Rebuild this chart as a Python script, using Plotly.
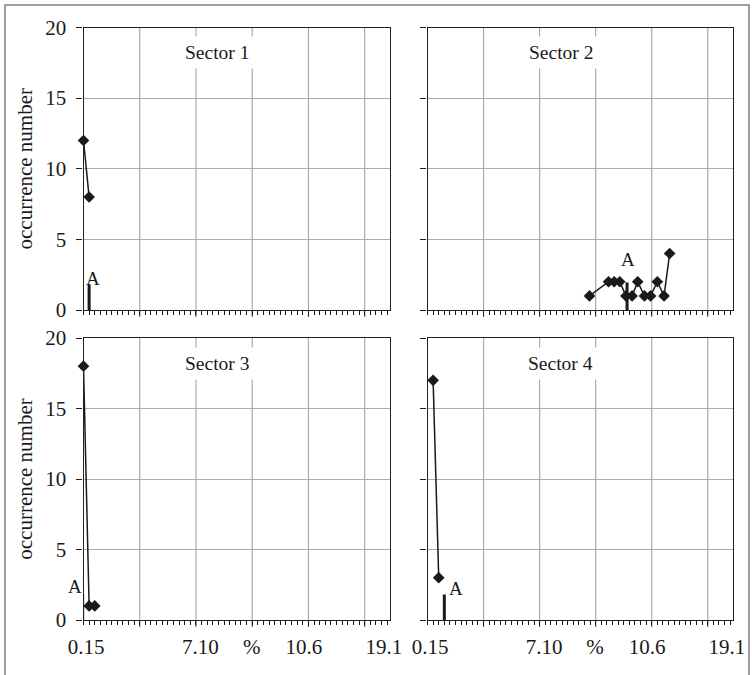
import plotly.graph_objects as go

# ---------------- data ----------------
SECTORS = ["Sector 1", "Sector 2", "Sector 3", "Sector 4"]

S1_X = [0, 1]
S1_Y = [12, 8]
S2_X = [28.9, 32.3, 33.3, 34.3, 35.4, 36.5, 37.5, 38.7, 39.8, 41.0, 42.2, 43.2]
S2_Y = [1, 2, 2, 2, 1, 1, 2, 1, 1, 2, 1, 4]
S3_X = [0, 1, 2]
S3_Y = [18, 1, 1]
S4_X = [1, 2]
S4_Y = [17, 3]

# "A" marker bars per sector
A_X = [1, 35.6, -0.15, 3]
A_H = [1.8, 1.95, 1.8, 1.8]
A_LABEL_X = [1.6, 35.7, 0.0, 5.0]
A_LABEL_Y = [2.25, 3.55, 2.4, 2.25]
A_LABEL_ANCHOR = ["center", "center", "right", "center"]

TICK_POS = [0.45, 20.8, 29.9, 39.2, 53.4]
TICK_TEXT = ["0.15", "7.10", "%", "10.6", "19.1"]
GRID_X = [10, 20, 30, 40, 50]
Y_TICKS = [0, 5, 10, 15, 20]
MINOR_X = list(range(0, 55))
X_RANGE = [0, 54.5]
Y_RANGE = [0, 20]
Y_TITLE = "occurrence number"

SERIES_X = [S1_X, S2_X, S3_X, S4_X]
SERIES_Y = [S1_Y, S2_Y, S3_Y, S4_Y]

# ---------------- style ----------------
W, H = 752, 675
FONT = "Liberation Serif"
INK = "#1a1a1a"
GRID = "#a2adb9"
FS = 21

X_DOM = [[83.5 / W, 390 / W], [427.5 / W, 733 / W]]
Y_DOM = [[1 - 310 / H, 1 - 27.5 / H], [1 - 620 / H, 1 - 338 / H]]

fig = go.Figure()
layout = dict(
    width=W, height=H, autosize=False,
    margin=dict(l=0, r=0, t=0, b=0, pad=0),
    paper_bgcolor="white", plot_bgcolor="white",
    showlegend=False,
    font=dict(family=FONT, size=FS, color=INK),
    shapes=[], annotations=[],
)

for i in range(4):
    row, col = divmod(i, 2)
    n = i + 1
    xa = "x" if n == 1 else f"x{n}"
    ya = "y" if n == 1 else f"y{n}"
    xkey = "xaxis" if n == 1 else f"xaxis{n}"
    ykey = "yaxis" if n == 1 else f"yaxis{n}"

    layout[xkey] = dict(
        domain=X_DOM[col], anchor=ya, range=X_RANGE, automargin=False,
        tickmode="array", tickvals=TICK_POS, ticktext=TICK_TEXT,
        showticklabels=(row == 1),
        ticks="outside", ticklen=8, tickcolor="rgba(0,0,0,0)",
        tickfont=dict(family=FONT, size=FS, color=INK),
        minor=dict(tickmode="array", tickvals=MINOR_X, ticks="outside",
                   ticklen=4, tickwidth=1, tickcolor=INK, showgrid=False),
        showgrid=False, zeroline=False,
        showline=True, linecolor="#222222", linewidth=1.2, mirror=True,
        fixedrange=True,
    )
    layout[ykey] = dict(
        domain=Y_DOM[row], anchor=xa, range=Y_RANGE, automargin=False,
        tickmode="array", tickvals=Y_TICKS,
        showticklabels=(col == 0),
        ticks="outside", ticklen=6, tickcolor=INK, tickwidth=1,
        ticklabelstandoff=6,
        tickfont=dict(family=FONT, size=FS, color=INK),
        showgrid=True, gridcolor=GRID, gridwidth=1.2,
        zeroline=False,
        showline=True, linecolor="#222222", linewidth=1.2, mirror=True,
        title=dict(text=Y_TITLE if col == 0 else "",
                   font=dict(family=FONT, size=FS, color=INK), standoff=6),
        fixedrange=True,
    )

    # vertical gridlines + longer ticks at major positions
    for g in GRID_X:
        layout["shapes"].append(dict(type="line", xref=xa, yref=f"{ya} domain",
                                     x0=g, x1=g, y0=0, y1=1, layer="below",
                                     line=dict(color=GRID, width=1.2)))
        layout["shapes"].append(dict(type="line", xref=xa, yref=f"{ya} domain",
                                     x0=g, x1=g, y0=-0.024, y1=0,
                                     line=dict(color=INK, width=1)))

    # "A" bar
    fig.add_trace(go.Scatter(x=[A_X[i], A_X[i]], y=[0, A_H[i]], mode="lines",
                             line=dict(color=INK, width=3), xaxis=xa, yaxis=ya,
                             cliponaxis=False, hoverinfo="skip"))
    # data series
    fig.add_trace(go.Scatter(x=SERIES_X[i], y=SERIES_Y[i], mode="lines+markers",
                             line=dict(color=INK, width=1.5),
                             marker=dict(symbol="diamond", size=9, color=INK),
                             xaxis=xa, yaxis=ya, cliponaxis=False, name=SECTORS[i]))

    layout["annotations"].append(dict(text=SECTORS[i], xref=xa, yref=ya, x=23.8, y=18.2,
                                      showarrow=False, bgcolor="white", borderpad=5,
                                      font=dict(family=FONT, size=19.5, color=INK)))
    layout["annotations"].append(dict(text="A", xref=xa, yref=ya,
                                      x=A_LABEL_X[i], y=A_LABEL_Y[i], showarrow=False,
                                      xanchor=A_LABEL_ANCHOR[i],
                                      font=dict(family=FONT, size=19, color=INK)))

# outer frame
layout["shapes"].append(dict(type="rect", xref="paper", yref="paper",
                             x0=5 / W, x1=749 / W, y0=-0.02, y1=1 - 5 / H,
                             line=dict(color="#808080", width=1.5),
                             fillcolor="rgba(0,0,0,0)"))

fig.update_layout(**layout)
fig.write_html("out.html")
